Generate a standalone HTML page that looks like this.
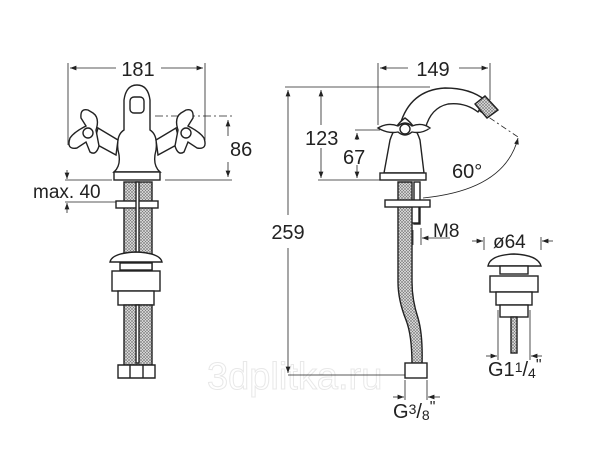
<!DOCTYPE html>
<html><head><meta charset="utf-8"><style>
html,body{margin:0;padding:0;background:#fff}
svg{display:block}
text{font-family:"Liberation Sans",sans-serif}
</style></head><body>
<svg width="600" height="450" viewBox="0 0 600 450" xmlns="http://www.w3.org/2000/svg">
<defs>
<pattern id="m" width="3" height="3" patternUnits="userSpaceOnUse">
<rect width="3" height="3" fill="#e4e4e4"/><path d="M0 0L3 3M3 0L0 3" stroke="#777" stroke-width="0.6"/>
</pattern>
<marker id="a" viewBox="0 0 8 6" refX="8" refY="3" markerWidth="8" markerHeight="6" orient="auto-start-reverse"><path d="M0 0L8 3L0 6z" fill="#222"/></marker>
</defs>
<text x="207" y="389" font-size="38" style="fill:#fff;stroke:#e8e8e8;stroke-width:1">3dplitka.ru</text>
<g stroke="#222" stroke-width="0.8" fill="none">
<line x1="68" y1="63" x2="68" y2="145"/><line x1="205" y1="63" x2="205" y2="140"/>
<line x1="70" y1="68" x2="116" y2="68" marker-start="url(#a)"/>
<line x1="161" y1="68" x2="203" y2="68" marker-end="url(#a)"/>
<line x1="155" y1="116" x2="232" y2="116" stroke-dasharray="8 3 2 3"/>
<line x1="165" y1="180" x2="232" y2="180"/>
<line x1="228" y1="120" x2="228" y2="136" marker-start="url(#a)"/>
<line x1="228" y1="162" x2="228" y2="177" marker-end="url(#a)"/>
<line x1="65" y1="180" x2="112" y2="180"/><line x1="65" y1="202" x2="116" y2="202"/>
<line x1="67" y1="170" x2="67" y2="179" marker-end="url(#a)"/>
<line x1="67" y1="213" x2="67" y2="203" marker-end="url(#a)"/>
</g>
<g fill="#222">
<text x="138" y="76" font-size="20" text-anchor="middle">181</text>
<text x="230" y="156" font-size="20">86</text>
<text x="33" y="198" font-size="19">max. 40</text>
</g>
<g stroke="#222" stroke-width="1.4" fill="#fff">
<path d="M118 150 Q116 135 124 130 L124 100 Q126 85 137 85 Q148 85 150 100 L150 130 Q158 135 156 150 Q152 165 160 172 L114 172 Q122 165 118 150Z"/>
<path d="M118 140 L98 128 L94 143 L116 155Z"/>
<path d="M156 140 L176 128 L180 143 L158 155Z"/>
<path d="M88 110 Q80 108 81 118 L86 126 Q74 132 70 138 Q66 150 77 148 L86 142 L90 152 Q96 156 99 146 L96 130 Q100 118 93 113Z"/>
<path d="M186 110 Q194 108 193 118 L188 126 Q200 132 204 138 Q208 150 197 148 L188 142 L184 152 Q178 156 175 146 L178 130 Q174 118 181 113Z"/>
<circle cx="88" cy="133" r="5"/><circle cx="186" cy="133" r="5"/>
<rect x="130" y="97" width="14" height="16" rx="4"/>
<rect x="114" y="172" width="46" height="8"/>
<rect x="124" y="182" width="28" height="120" fill="url(#m)"/>
<rect x="116" y="201" width="42" height="7"/>
<rect x="136" y="182" width="3" height="120" fill="#fff"/>
<path d="M110 262 Q112 253 136 252 Q160 253 162 262Z"/>
<rect x="120" y="263" width="32" height="7"/>
<rect x="112" y="271" width="48" height="20"/>
<rect x="118" y="291" width="36" height="14"/>
<rect x="124" y="305" width="28" height="60" fill="url(#m)"/>
<rect x="136" y="305" width="3" height="58" fill="#fff"/>
<path d="M118 365 h37 v13 h-37z"/>
<line x1="130" y1="365" x2="130" y2="378"/><line x1="143" y1="365" x2="143" y2="378"/>
</g>
<g stroke="#222" stroke-width="0.8" fill="none">
<line x1="285" y1="87" x2="430" y2="87"/>
<line x1="378" y1="63" x2="378" y2="125"/><line x1="490" y1="63" x2="490" y2="100"/>
<line x1="380" y1="68" x2="408" y2="68" marker-start="url(#a)"/>
<line x1="459" y1="68" x2="488" y2="68" marker-end="url(#a)"/>
<line x1="288" y1="90" x2="288" y2="215" marker-start="url(#a)"/>
<line x1="288" y1="248" x2="288" y2="373" marker-end="url(#a)"/>
<line x1="288" y1="375" x2="405" y2="375"/>
<line x1="321" y1="90" x2="321" y2="125" marker-start="url(#a)"/>
<line x1="321" y1="148" x2="321" y2="178" marker-end="url(#a)"/>
<line x1="318" y1="180" x2="380" y2="180"/>
<line x1="355" y1="130" x2="380" y2="130"/>
<line x1="357" y1="133" x2="357" y2="140" marker-start="url(#a)"/>
<line x1="357" y1="165" x2="357" y2="178" marker-end="url(#a)"/>
<path d="M423 198 Q505 190 518 138" marker-end="url(#a)"/>
<line x1="478" y1="110" x2="518" y2="137" stroke-dasharray="6 3 2 3"/>
<line x1="421" y1="228" x2="421" y2="245"/><line x1="413" y1="230" x2="413" y2="245"/>
<line x1="450" y1="238" x2="422" y2="238" marker-end="url(#a)"/>
<line x1="405" y1="380" x2="405" y2="400"/><line x1="427" y1="380" x2="427" y2="400"/>
<line x1="393" y1="397" x2="404" y2="397" marker-end="url(#a)"/>
<line x1="440" y1="397" x2="428" y2="397" marker-end="url(#a)"/>
<line x1="484" y1="237" x2="484" y2="250"/><line x1="541" y1="237" x2="541" y2="250"/>
<line x1="472" y1="241" x2="483" y2="241" marker-end="url(#a)"/>
<line x1="553" y1="241" x2="542" y2="241" marker-end="url(#a)"/>
<line x1="498" y1="310" x2="498" y2="360"/><line x1="530" y1="310" x2="530" y2="360"/>
<line x1="486" y1="356" x2="497" y2="356" marker-end="url(#a)"/>
<line x1="542" y1="356" x2="531" y2="356" marker-end="url(#a)"/>
</g>
<g fill="#222">
<text x="433" y="76" font-size="20" text-anchor="middle">149</text>
<text x="288" y="239" font-size="20" text-anchor="middle">259</text>
<text x="305" y="145" font-size="20">123</text>
<text x="343" y="164" font-size="20">67</text>
<text x="452" y="178" font-size="20">60°</text>
<text x="433" y="237" font-size="19">M8</text>
<text x="393" y="418" font-size="20">G<tspan font-size="14" dy="-4">3</tspan><tspan dy="4">/</tspan><tspan font-size="14" dy="2">8</tspan><tspan font-size="16" dy="-8">"</tspan></text>
<text x="493" y="248" font-size="19">ø64</text>
<text x="488" y="376" font-size="20">G1<tspan font-size="14" dy="-4">1</tspan><tspan dy="4">/</tspan><tspan font-size="14" dy="2">4</tspan><tspan font-size="16" dy="-8">"</tspan></text>
</g>
<g stroke="#222" stroke-width="1.4" fill="#fff">
<path d="M400 125 Q410 90 445 88 Q470 88 485 100 L478 112 Q465 102 448 104 Q430 108 425 130Z"/>
<path d="M475 104 L485 96 L498 110 L487 118Z" fill="url(#m)"/>
<path d="M390 140 Q395 125 405 118 Q415 125 420 140 L424 173 L384 173Z"/>
<path d="M378 128 Q388 122 398 126 Q405 120 412 126 Q422 122 430 128 Q422 134 412 132 Q405 138 398 132 Q388 134 378 128Z"/>
<circle cx="405" cy="129" r="5"/>
<rect x="380" y="173" width="46" height="7"/>
<rect x="414" y="182" width="6" height="42"/>
<rect x="410" y="203" width="9" height="20"/>
<path d="M398 182 h14 v100 Q412 300 418 318 Q423 335 422 365 h-10 Q412 335 406 320 Q398 300 398 282Z" fill="url(#m)"/>
<rect x="385" y="200" width="45" height="7"/>
<rect x="405" y="363" width="22" height="15"/>
<path d="M488 266 Q490 255 514 254 Q538 255 541 266Z"/>
<rect x="500" y="266" width="28" height="8"/>
<rect x="490" y="276" width="48" height="16"/>
<rect x="496" y="292" width="36" height="13"/>
<rect x="500" y="305" width="28" height="12"/>
<rect x="511" y="317" width="6" height="36" fill="url(#m)"/>
</g>
</svg>
</body></html>
